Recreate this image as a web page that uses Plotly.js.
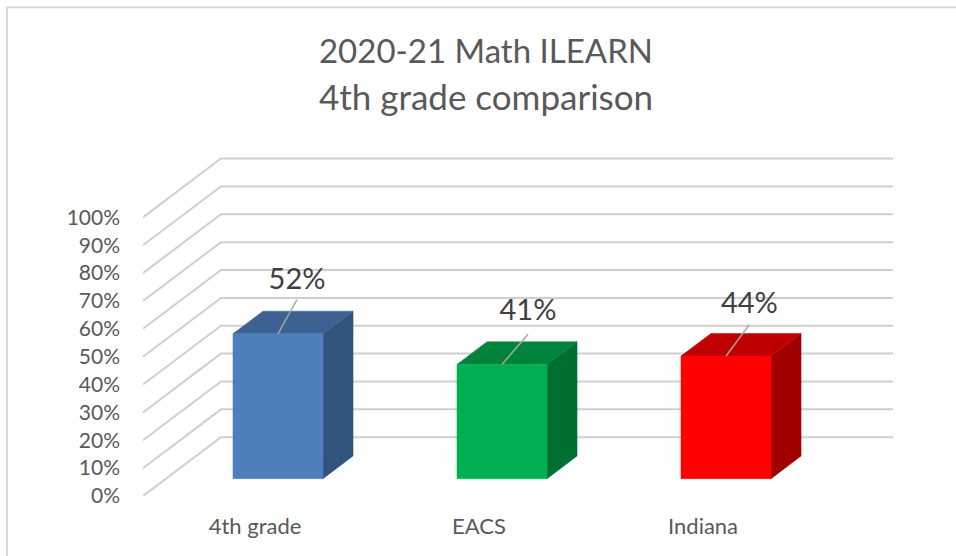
<!DOCTYPE html>
<html>
<head>
<meta charset="utf-8">
<script src="https://cdn.plot.ly/plotly-3.0.1.min.js"></script>
<style>html,body{margin:0;padding:0;background:#fff}#chart{width:956px;height:556px}</style>
</head>
<body>
<div id="chart"></div>
<script>
var categories = ['4th grade', 'EACS', 'Indiana'];
var values = [52, 41, 44];
var valueLabels = ['52%', '41%', '44%'];
var frontColors = ['#4e7ebc', '#00b050', '#ff0000'];
var topColors = ['#3b6290', '#00843c', '#bf0000'];
var sideColors = ['#31547c', '#006f32', '#a10000'];
var gridValues = [0, 10, 20, 30, 40, 50, 60, 70, 80, 90, 100];
var gridLabels = ['0%', '10%', '20%', '30%', '40%', '50%', '60%', '70%', '80%', '90%', '100%'];

// Oblique projection of the 3-D chart, in axis units
var depthX = 0.348, depthY = 21.1, headroom = 2;
var barWidth = 0.402, barDepthStart = 0.295, barDepthEnd = 0.68;
var labelOffsetX = [0.085, 0.116, 0.104];
var labelOffsetY = [18.7, 18.6, 18.1];
var leaderOffsetX = [0.085, 0.116, 0.103];
var leaderOffsetY = [12.3, 10.8, 11.2];

var traces = [];
function poly(xs, ys, color) {
  traces.push({x: xs, y: ys, mode: 'lines', fill: 'toself', fillcolor: color,
    line: {width: 0.5, color: color}, hoverinfo: 'skip', showlegend: false, cliponaxis: false});
}
gridValues.forEach(function (v) {
  traces.push({x: [0, depthX, categories.length + depthX], y: [v, v + depthY, v + depthY],
    mode: 'lines', line: {color: '#cfcfcf', width: 2}, hoverinfo: 'skip', showlegend: false, cliponaxis: false});
});
var labelX = [], labelY = [];
categories.forEach(function (c, i) {
  var x0 = i + 0.5 - barWidth / 2 + depthX * barDepthStart, x1 = x0 + barWidth;
  var y0 = depthY * barDepthStart, v = values[i] + y0;
  var dx = depthX * (barDepthEnd - barDepthStart), dy = depthY * (barDepthEnd - barDepthStart);
  poly([x1, x1 + dx, x1 + dx, x1, x1], [y0, y0 + dy, v + dy, v, y0], sideColors[i]);
  poly([x0, x0 + dx, x1 + dx, x1, x0], [v, v + dy, v + dy, v, v], topColors[i]);
  poly([x0, x1, x1, x0, x0], [y0, y0, v, v, y0], frontColors[i]);
  var cx = (x0 + x1) / 2;
  traces.push({x: [cx, cx + leaderOffsetX[i]], y: [v, v + leaderOffsetY[i]], mode: 'lines',
    line: {color: '#a6a6a6', width: 1.5}, hoverinfo: 'skip', showlegend: false, cliponaxis: false});
  labelX.push(cx + labelOffsetX[i]);
  labelY.push(v + labelOffsetY[i]);
});
traces.push({x: labelX, y: labelY, mode: 'text', text: valueLabels, textposition: 'middle center',
  textfont: {family: 'Lato, sans-serif', size: 29, color: '#404040'},
  hoverinfo: 'skip', showlegend: false, cliponaxis: false});

var plotTop = 153.13, plotBottom = 495.7, plotLeft = 143, plotW = 750, plotH = plotBottom - plotTop;
function px(p) { return (p - plotLeft) / plotW; }
function py(p) { return (plotBottom - p) / plotH; }

var layout = {
  width: 956, height: 556,
  margin: {l: plotLeft, r: 956 - plotLeft - plotW, t: plotTop, b: 556 - plotBottom},
  paper_bgcolor: '#ffffff', plot_bgcolor: 'rgba(0,0,0,0)',
  showlegend: false,
  title: {text: '<span style="font-size:33px">2020-21 Math ILEARN</span><br><span style="font-size:35px">4th grade comparison</span>',
    font: {family: 'Lato, sans-serif', size: 36, color: '#595959'},
    x: 486 / 956, xanchor: 'center', y: 1 - 63 / 556, yanchor: 'top'},
  xaxis: {range: [0, categories.length + depthX], showgrid: false, zeroline: false, showline: false,
    tickmode: 'array', tickvals: categories.map(function (c, i) { return i + 0.5; }), ticktext: categories,
    ticks: '', ticklabelstandoff: 15, tickfont: {family: 'Lato, sans-serif', size: 22, color: '#595959'}},
  yaxis: {range: [0, 100 + depthY + headroom], showgrid: false, zeroline: false, showline: false,
    tickmode: 'array', tickvals: gridValues, ticktext: gridLabels,
    ticks: '', ticklabelstandoff: 22, tickfont: {family: 'Lato, sans-serif', size: 21, color: '#595959'}},
  shapes: [
    {type: 'line', xref: 'paper', yref: 'paper', x0: px(7), x1: px(956), y0: py(7.5), y1: py(7.5),
      line: {color: '#d9d9d9', width: 2}},
    {type: 'line', xref: 'paper', yref: 'paper', x0: px(7), x1: px(7), y0: py(7), y1: py(556),
      line: {color: '#d9d9d9', width: 2}}
  ]
};
Plotly.newPlot('chart', traces, layout, {displayModeBar: false, responsive: false});
</script>
</body>
</html>
